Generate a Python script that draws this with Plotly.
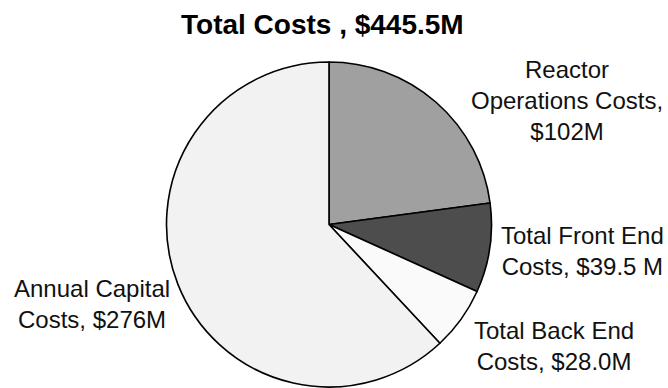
import plotly.graph_objects as go

W, H = 668, 388

categories = ["Reactor Operations Costs", "Total Front End Costs", "Total Back End Costs", "Annual Capital Costs"]
values = [102.0, 39.5, 28.0, 276.0]
label_texts = [
    "Reactor<br>Operations Costs,<br>$102M",
    "Total Front End<br>Costs, $39.5 M",
    "Total Back End<br>Costs, $28.0M",
    "Annual Capital<br>Costs, $276M",
]
title_text = "<b>Total Costs , $445.5M</b>"

colors = ["#a0a0a0", "#4d4d4d", "#fafafa", "#f2f2f2"]

# pie geometry in pixels
cx, cy, r = 329, 224.5, 162.5
# label block centers in pixels
label_pos = [(567, 101), (582, 251), (554, 346), (92, 304)]

fig = go.Figure(go.Pie(
    labels=categories,
    values=values,
    sort=False,
    direction="clockwise",
    rotation=0,
    textinfo="none",
    hoverinfo="label+value",
    marker=dict(colors=colors, line=dict(color="#000000", width=1.6)),
    domain=dict(x=[(cx - r) / W, (cx + r) / W], y=[(H - cy - r) / H, (H - cy + r) / H]),
    showlegend=False,
))

annotations = []
for txt, (px, py) in zip(label_texts, label_pos):
    annotations.append(dict(
        text=txt, x=px / W, y=1 - py / H, xref="paper", yref="paper",
        xanchor="center", yanchor="middle", align="center", showarrow=False,
        font=dict(family="Liberation Sans, Arial, sans-serif", size=24, color="#111111"),
    ))
annotations.append(dict(
    text=title_text, x=322 / W, y=1 - 24 / H, xref="paper", yref="paper",
    xanchor="center", yanchor="middle", showarrow=False,
    font=dict(family="Liberation Sans, Arial, sans-serif", size=28, color="#000000"),
))

fig.update_layout(
    width=W, height=H,
    margin=dict(l=0, r=0, t=0, b=0),
    paper_bgcolor="#ffffff",
    plot_bgcolor="#ffffff",
    annotations=annotations,
)

fig.write_html("out.html")
